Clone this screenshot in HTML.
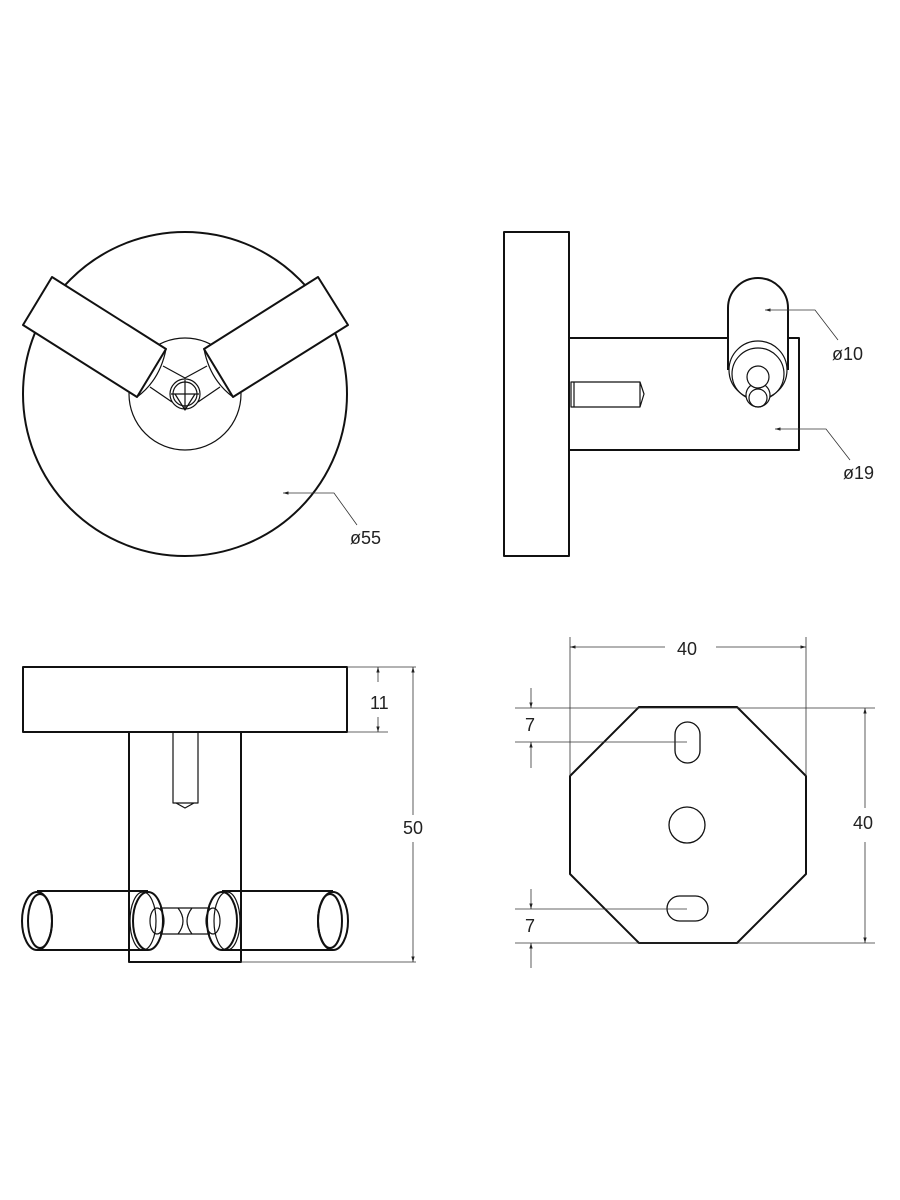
<!DOCTYPE html>
<html><head><meta charset="utf-8"><style>
html,body{margin:0;padding:0;background:#fff}
svg{display:block}
text{font-family:"Liberation Sans",sans-serif;font-size:18px;fill:#222}
</style></head><body>
<svg width="900" height="1200" viewBox="0 0 900 1200" xmlns="http://www.w3.org/2000/svg">
<defs>
<marker id="a" viewBox="0 0 10 10" refX="10" refY="5" markerWidth="7" markerHeight="7" orient="auto-start-reverse"><path d="M0,2 L10,5 L0,8z" fill="#222"/></marker>
</defs>
<g fill="none" stroke="#111" stroke-width="2" stroke-linejoin="round">
<circle cx="185" cy="394" r="162"/>
<circle cx="185" cy="394" r="56" stroke-width="1.2"/>
<polygon points="52,277 23,325 137,397 166,349" fill="#fff"/>
<polygon points="318,277 348,325 233,397 204,349" fill="#fff"/>
<g stroke-width="1.2">
<path d="M166,349 Q160,380 137,397 M204,349 Q210,380 233,397"/>
<path d="M163,366 L185,378 L207,366 M150,387 L172,402 M220,387 L198,402"/>
<circle cx="185" cy="394" r="15"/><circle cx="185" cy="394" r="12"/>
<path d="M185,380 V410 M171,394 H199 M175,394 L185,410 L195,394"/>
</g>
<rect x="504" y="232" width="65" height="324"/>
<rect x="569" y="338" width="230" height="112"/>
<g stroke-width="1.2"><path d="M571,382 H640 L644,394 L640,407 H571 Z M574,382 V407 M640,382 V407"/></g>
<path d="M728,370 V308 A30,30 0 0 1 788,308 V370" fill="#fff"/>
<g stroke-width="1.2">
<circle cx="758" cy="370" r="29" fill="#fff"/><circle cx="758" cy="374" r="26"/>
<circle cx="758" cy="395" r="12" fill="#fff"/><circle cx="758" cy="398" r="9"/>
<circle cx="758" cy="377" r="11" fill="#fff"/>
</g>
<rect x="23" y="667" width="324" height="65"/>
<rect x="129" y="732" width="112" height="230"/>
<g stroke-width="1.2"><path d="M173,732 V803 H198 V732 M176,803 L185,808 L194,803"/></g>
<path d="M37,891 H148 M37,950 H148 M222,891 H333 M222,950 H333"/>
<ellipse cx="37" cy="921" rx="15" ry="29" fill="#fff"/><ellipse cx="40" cy="921" rx="12" ry="27"/>
<ellipse cx="333" cy="921" rx="15" ry="29"/><ellipse cx="330" cy="921" rx="12" ry="27"/>
<ellipse cx="148" cy="921" rx="15" ry="29"/><ellipse cx="143" cy="921" rx="13" ry="29" stroke-width="1.2"/>
<ellipse cx="222" cy="921" rx="15" ry="29"/><ellipse cx="227" cy="921" rx="13" ry="29" stroke-width="1.2"/>
<g stroke-width="1.2">
<ellipse cx="157" cy="921" rx="7" ry="13"/><ellipse cx="213" cy="921" rx="7" ry="13"/>
<path d="M160,908 H210 M160,934 H210 M178,908 Q188,921 178,934 M192,908 Q182,921 192,934"/>
</g>
<polygon points="639,707 737,707 806,776 806,874 737,943 639,943 570,874 570,776"/>
<g stroke-width="1.3">
<rect x="675" y="722" width="25" height="41" rx="12.5"/>
<rect x="667" y="896" width="41" height="25" rx="12.5"/>
<circle cx="687" cy="825" r="18"/>
</g>
</g>
<g fill="none" stroke="#333" stroke-width="0.8">
<path d="M765,310 H815 L838,340" marker-start="url(#a)"/>
<path d="M775,429 H826 L850,460" marker-start="url(#a)"/>
<path d="M283,493 H334 L357,525" marker-start="url(#a)"/>
<path d="M347,667 H416 M347,732 H388 M241,962 H416"/>
<path d="M378,682 V667" marker-end="url(#a)"/><path d="M378,717 V732" marker-end="url(#a)"/>
<path d="M413,815 V667" marker-end="url(#a)"/><path d="M413,842 V962" marker-end="url(#a)"/>
<path d="M570,637 V776 M806,637 V776"/>
<path d="M665,647 H570" marker-end="url(#a)"/><path d="M716,647 H806" marker-end="url(#a)"/>
<path d="M515,708 H875 M515,943 H875 M515,742 H687 M515,909 H687"/>
<path d="M865,808 V708" marker-end="url(#a)"/><path d="M865,842 V943" marker-end="url(#a)"/>
<path d="M531,688 V708" marker-end="url(#a)"/><path d="M531,768 V742" marker-end="url(#a)"/>
<path d="M531,889 V909" marker-end="url(#a)"/><path d="M531,968 V943" marker-end="url(#a)"/>
</g>
<text x="832" y="360">ø10</text>
<text x="843" y="479">ø19</text>
<text x="350" y="544">ø55</text>
<text x="370" y="709">11</text>
<text x="403" y="834">50</text>
<text x="677" y="655">40</text>
<text x="853" y="829">40</text>
<text x="525" y="731">7</text>
<text x="525" y="932">7</text>
</svg>
</body></html>
